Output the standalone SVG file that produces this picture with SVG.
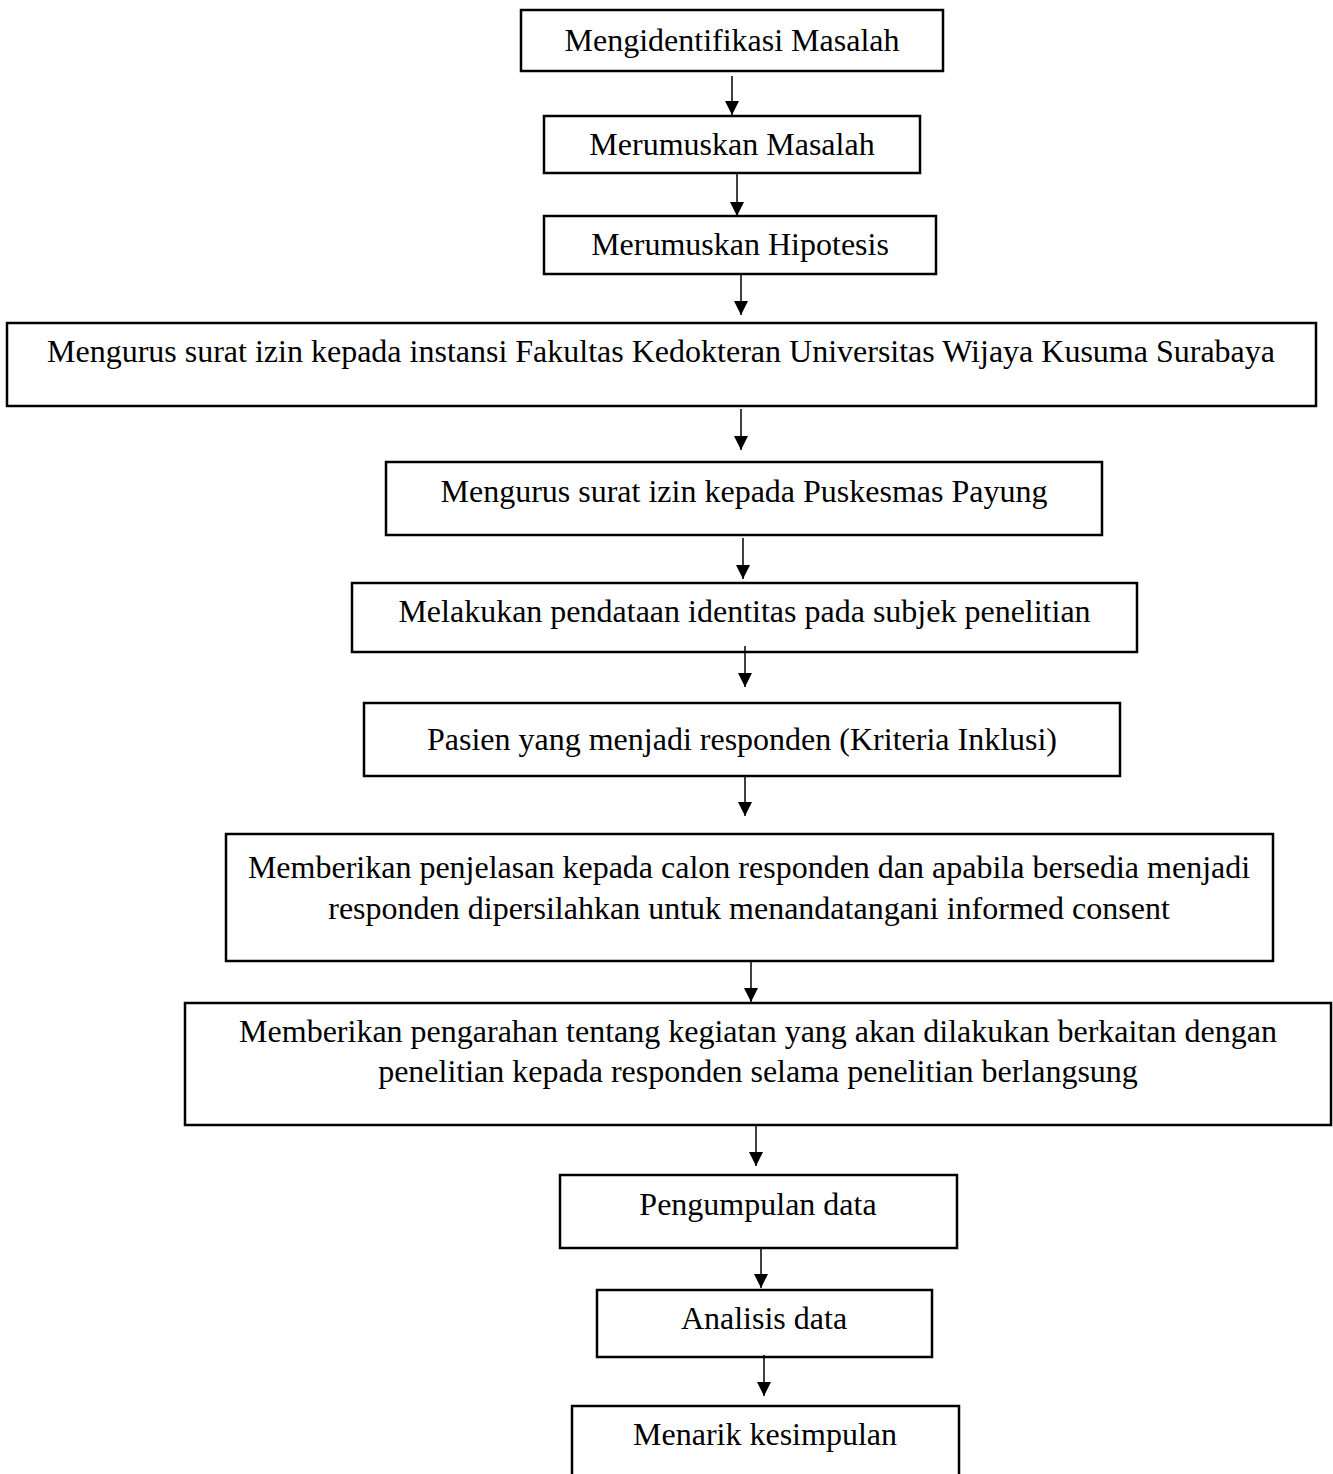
<svg xmlns="http://www.w3.org/2000/svg" width="1333" height="1474" viewBox="0 0 1333 1474">
<style>
.box{fill:#fff;stroke:#000;stroke-width:2.5}
.t{font-family:"Liberation Serif","Times New Roman",serif;font-size:32px;fill:#000;text-anchor:middle}
.c{stroke:#000;stroke-width:1.5;fill:none}
</style>
<defs>
<marker id="ah" markerWidth="14" markerHeight="14" refX="14" refY="7" orient="auto" markerUnits="userSpaceOnUse">
<path d="M0,0 L14,7 L0,14 Z" fill="#000"/>
</marker>
</defs>
<rect width="1333" height="1474" fill="#fff"/>
<g id="n1"><rect class="box" x="521" y="10" width="422" height="61"/><text class="t" x="732" y="51">Mengidentifikasi Masalah</text></g>
<g id="n2"><rect class="box" x="544" y="116" width="376" height="57"/><text class="t" x="732" y="155">Merumuskan Masalah</text></g>
<g id="n3"><rect class="box" x="544" y="216" width="392" height="58"/><text class="t" x="740" y="255">Merumuskan Hipotesis</text></g>
<g id="n4"><rect class="box" x="7" y="323" width="1309" height="83"/><text class="t" x="661" y="362">Mengurus surat izin kepada instansi Fakultas Kedokteran Universitas Wijaya Kusuma Surabaya</text></g>
<g id="n5"><rect class="box" x="386" y="462" width="716" height="73"/><text class="t" x="744" y="502">Mengurus surat izin kepada Puskesmas Payung</text></g>
<g id="n6"><rect class="box" x="352" y="583" width="785" height="69"/><text class="t" x="744.5" y="622">Melakukan pendataan identitas pada subjek penelitian</text></g>
<g id="n7"><rect class="box" x="364" y="703" width="756" height="73"/><text class="t" x="742" y="750">Pasien yang menjadi responden (Kriteria Inklusi)</text></g>
<g id="n8"><rect class="box" x="226" y="834" width="1047" height="127"/><text class="t" x="749" y="878">Memberikan penjelasan kepada calon responden dan apabila bersedia menjadi</text><text class="t" x="749" y="919">responden dipersilahkan untuk menandatangani informed consent</text></g>
<g id="n9"><rect class="box" x="185" y="1003" width="1146" height="122"/><text class="t" x="758" y="1042">Memberikan pengarahan tentang kegiatan yang akan dilakukan berkaitan dengan</text><text class="t" x="758" y="1082">penelitian kepada responden selama penelitian berlangsung</text></g>
<g id="n10"><rect class="box" x="560" y="1175" width="397" height="73"/><text class="t" x="758" y="1215">Pengumpulan data</text></g>
<g id="n11"><rect class="box" x="597" y="1290" width="335" height="67"/><text class="t" x="764" y="1329">Analisis data</text></g>
<g id="n12"><rect class="box" x="572" y="1406" width="387" height="80"/><text class="t" x="765" y="1445">Menarik kesimpulan</text></g>
<g id="connectors">
<line class="c" x1="732" y1="76" x2="732" y2="115" marker-end="url(#ah)"/>
<line class="c" x1="737" y1="174" x2="737" y2="216" marker-end="url(#ah)"/>
<line class="c" x1="741" y1="275" x2="741" y2="315" marker-end="url(#ah)"/>
<line class="c" x1="741" y1="409" x2="741" y2="450" marker-end="url(#ah)"/>
<line class="c" x1="743" y1="538" x2="743" y2="579" marker-end="url(#ah)"/>
<line class="c" x1="745" y1="646" x2="745" y2="687" marker-end="url(#ah)"/>
<line class="c" x1="745" y1="777" x2="745" y2="816" marker-end="url(#ah)"/>
<line class="c" x1="751" y1="962" x2="751" y2="1002" marker-end="url(#ah)"/>
<line class="c" x1="756" y1="1126" x2="756" y2="1166" marker-end="url(#ah)"/>
<line class="c" x1="761" y1="1249" x2="761" y2="1288" marker-end="url(#ah)"/>
<line class="c" x1="764" y1="1355" x2="764" y2="1396" marker-end="url(#ah)"/>
</g>
</svg>
